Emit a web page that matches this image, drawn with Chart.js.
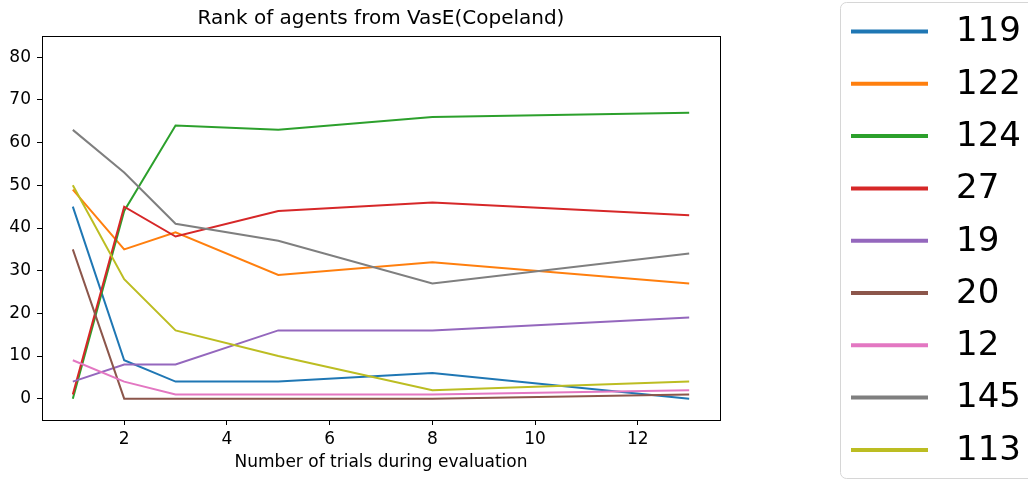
<!DOCTYPE html>
<html>
<head>
<meta charset="utf-8">
<script src="https://cdn.jsdelivr.net/npm/chart.js@4.4.1/dist/chart.umd.min.js"></script>
<style>
    html, body { margin: 0; padding: 0; background: #fff; }
    #wrap { width: 1028px; height: 481px; position: relative; }
</style>
</head>
<body>
<div id="wrap"><canvas id="rank-chart"></canvas></div>
<script>
// Trials (x) and rank of each agent
const trials = [1, 2, 3, 5, 8, 13];
const xTickValues = [2, 4, 6, 8, 10, 12];
const yTickValues = [0, 10, 20, 30, 40, 50, 60, 70, 80];

const agent119 = [45, 9, 4, 4, 6, 0];
const agent122 = [49, 35, 39, 29, 32, 27];
const agent124 = [0, 44, 64, 63, 66, 67];
const agent27 = [1, 45, 38, 44, 46, 43];
const agent19 = [4, 8, 8, 16, 16, 19];
const agent20 = [35, 0, 0, 0, 0, 1];
const agent12 = [9, 4, 1, 1, 1, 2];
const agent145 = [63, 53, 41, 37, 27, 34];
const agent113 = [50, 28, 16, 10, 2, 4];

const agentLabels = ['119', '122', '124', '27', '19', '20', '12', '145', '113'];
const agentSeries = [agent119, agent122, agent124, agent27, agent19, agent20, agent12, agent145, agent113];
const palette = ['#1f77b4', '#ff7f0e', '#2ca02c', '#d62728', '#9467bd', '#8c564b', '#e377c2', '#7f7f7f', '#bcbd22'];

const FONT = 'DejaVu Sans';

// Frame, title and legend drawn over the canvas
const decorPlugin = {
    id: 'decor',
    afterDraw(chart) {
        const ctx = chart.ctx;
        const a = chart.chartArea;
        ctx.save();

        // axes frame
        ctx.strokeStyle = '#000';
        ctx.lineWidth = 1;
        ctx.strokeRect(Math.round(a.left) + 0.5, Math.round(a.top) + 0.5,
            Math.round(a.right - a.left), Math.round(a.bottom - a.top));

        // title
        ctx.fillStyle = '#000';
        ctx.font = '20px "' + FONT + '"';
        ctx.textAlign = 'center';
        ctx.textBaseline = 'middle';
        ctx.fillText('Rank of agents from VasE(Copeland)', (a.left + a.right) / 2, 19);

        // legend
        ctx.strokeStyle = '#d6d6d6';
        ctx.lineWidth = 1;
        ctx.beginPath();
        ctx.roundRect(840.5, 2.5, 220, 476, 6);
        ctx.stroke();

        ctx.font = '34px "' + FONT + '"';
        ctx.textAlign = 'left';
        chart.data.datasets.forEach((ds, i) => {
            const y = 31.5 + i * 52.3;
            ctx.strokeStyle = ds.borderColor;
            ctx.lineWidth = 4;
            ctx.beginPath();
            ctx.moveTo(851, y);
            ctx.lineTo(928, y);
            ctx.stroke();
            ctx.fillStyle = '#000';
            ctx.fillText(ds.label, 956, y + 1);
        });
        ctx.restore();
    }
};

const datasets = agentSeries.map((values, i) => ({
    label: agentLabels[i],
    data: values.map((v, j) => ({ x: trials[j], y: v })),
    borderColor: palette[i],
    backgroundColor: palette[i],
    borderWidth: 2,
    pointRadius: 0,
    tension: 0,
    order: agentSeries.length - i
}));

new Chart(document.getElementById('rank-chart'), {
    type: 'line',
    data: { datasets: datasets },
    options: {
        responsive: true,
        maintainAspectRatio: false,
        animation: false,
        layout: { padding: { top: 36, right: 308, left: 0, bottom: 0 } },
        plugins: {
            legend: { display: false },
            title: { display: false },
            tooltip: { enabled: false }
        },
        scales: {
            x: {
                type: 'linear',
                min: 0.4,
                max: 13.6,
                grid: { display: true, drawOnChartArea: false, drawTicks: true, tickLength: 5, color: '#000' },
                border: { display: true, color: '#000' },
                ticks: {
                    color: '#000',
                    padding: 4,
                    maxRotation: 0,
                    font: { family: FONT, size: 17 }
                },
                afterBuildTicks(scale) { scale.ticks = xTickValues.map(v => ({ value: v })); },
                title: {
                    display: true,
                    text: 'Number of trials during evaluation',
                    color: '#000',
                    padding: { top: 0, bottom: 8 },
                    font: { family: FONT, size: 17 }
                },
                afterFit(scale) { scale.height = 61; }
            },
            y: {
                min: -5,
                max: 85,
                grid: { display: true, drawOnChartArea: false, drawTicks: true, tickLength: 5, color: '#000' },
                border: { display: true, color: '#000' },
                ticks: {
                    color: '#000',
                    padding: 6,
                    font: { family: FONT, size: 17 }
                },
                afterBuildTicks(scale) { scale.ticks = yTickValues.map(v => ({ value: v })); },
                afterFit(scale) { scale.width = 42; }
            }
        }
    },
    plugins: [decorPlugin]
});
</script>
</body>
</html>
